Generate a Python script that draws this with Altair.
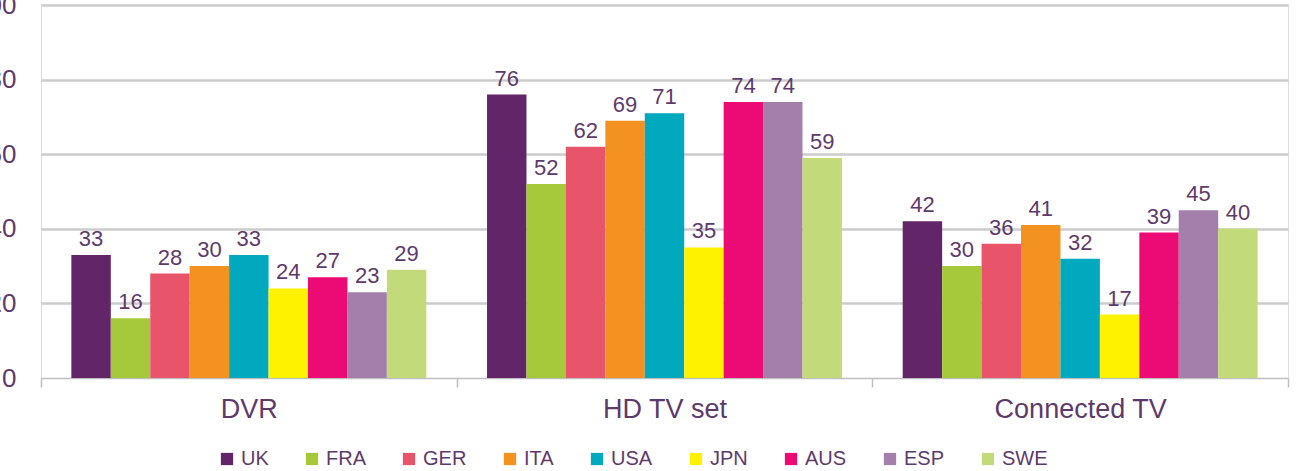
import altair as alt
import pandas as pd

categories = ["DVR", "HD TV set", "Connected TV"]
countries = ["UK", "FRA", "GER", "ITA", "USA", "JPN", "AUS", "ESP", "SWE"]
colors = ["#622567", "#a5c93a", "#e8556a", "#f39220", "#00a9bd",
          "#fff200", "#ec0b74", "#a57fac", "#c3da7b"]
dvr = [33, 16, 28, 30, 33, 24, 27, 23, 29]
hd_tv = [76, 52, 62, 69, 71, 35, 74, 74, 59]
connected = [42, 30, 36, 41, 32, 17, 39, 45, 40]
y_ticks = [0, 20, 40, 60, 80, 100]

rows = []
for cat, vals in zip(categories, [dvr, hd_tv, connected]):
    for c, v in zip(countries, vals):
        rows.append({"device": cat, "country": c, "value": v})
df = pd.DataFrame(rows)

TXT = "#5e3a6c"
FONT = "Liberation Sans"

x_enc = alt.X("device:N", sort=categories,
              scale=alt.Scale(paddingInner=0, paddingOuter=0),
              axis=alt.Axis(title=None, labelAngle=0, labelFontSize=27,
                            labelColor=TXT, labelFont=FONT, labelPadding=9,
                            domainColor="#bfbfbf", domainWidth=1.5,
                            tickBand="extent", tickColor="#bfbfbf",
                            tickWidth=1.5, tickSize=9, grid=False))
xo_enc = alt.XOffset("country:N", sort=countries,
                     scale=alt.Scale(paddingInner=0, paddingOuter=0.77))
y_enc = alt.Y("value:Q", scale=alt.Scale(domain=[0, 100]),
              axis=alt.Axis(title=None, values=y_ticks, domain=False, ticks=False,
                            labelFontSize=26, labelColor=TXT, labelFont=FONT,
                            labelPadding=25, gridColor="#cccccc", gridWidth=2.5,
                            gridOpacity={"condition": {"test": "datum.value === 0", "value": 0}, "value": 1}))

bars = alt.Chart(df).mark_bar().encode(
    x=x_enc, xOffset=xo_enc, y=y_enc,
    color=alt.Color("country:N", sort=countries,
                    scale=alt.Scale(domain=countries, range=colors),
                    legend=alt.Legend(title=None, orient="none", direction="horizontal",
                                      legendX=176, legendY=444, symbolType="square",
                                      symbolSize=150, symbolStrokeWidth=0,
                                      labelFontSize=20, labelColor=TXT, labelFont=FONT,
                                      columnPadding=33, labelOffset=4)),
)

labels = alt.Chart(df).mark_text(baseline="alphabetic", dy=-9, fontSize=22,
                                 color=TXT, font=FONT).encode(
    x=alt.X("device:N", sort=categories), xOffset=alt.XOffset("country:N", sort=countries),
    y="value:Q", text="value:Q")

chart = (bars + labels).properties(
    width=1247, height=373,
    autosize=alt.AutoSizeParams(type="none"),
    padding={"left": 41, "top": 5, "right": 9, "bottom": 93},
).configure_view(stroke=None).configure(background="white")

chart.save("out.html", embed_options={"renderer": "svg", "actions": False})
